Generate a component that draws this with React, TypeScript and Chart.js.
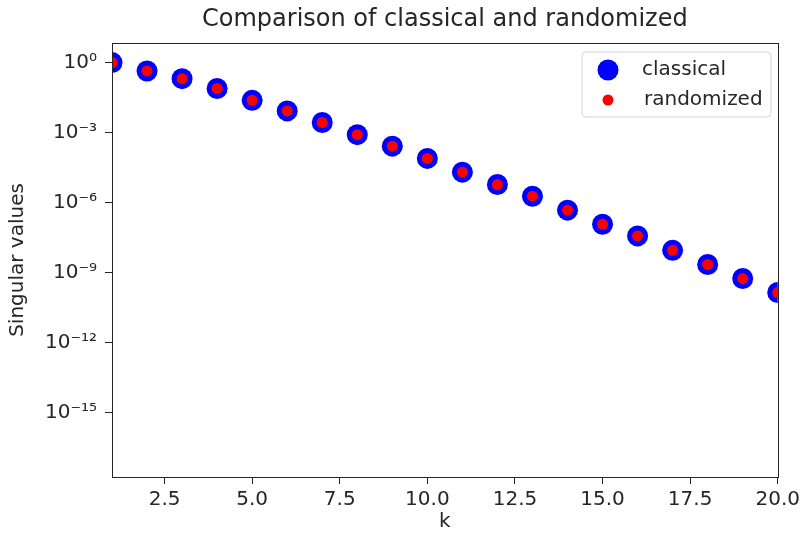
import React, { useEffect, useRef } from "react";
import { Chart, registerables } from "chart.js";

Chart.register(...registerables);

const ks = [1, 2, 3, 4, 5, 6, 7, 8, 9, 10, 11, 12, 13, 14, 15, 16, 17, 18, 19, 20];
const classical = [
  1.0, 0.437, 0.204, 0.0776, 0.024, 0.0085, 0.0027, 8.1e-4, 2.6e-4, 7.8e-5,
  2.0e-5, 5.9e-6, 1.86e-6, 4.7e-7, 1.17e-7, 3.7e-8, 8.9e-9, 2.2e-9, 5.5e-10, 1.38e-10,
];
const randomized = [
  1.0, 0.437, 0.204, 0.0776, 0.024, 0.0085, 0.0027, 8.1e-4, 2.6e-4, 7.8e-5,
  2.0e-5, 5.9e-6, 1.86e-6, 4.7e-7, 1.17e-7, 3.7e-8, 8.9e-9, 2.2e-9, 5.5e-10, 1.38e-10,
];
const xTicks = [2.5, 5, 7.5, 10, 12.5, 15, 17.5, 20];
const yTickExps = [0, -3, -6, -9, -12, -15];
const titleText = "Comparison of classical and randomized";
const xLabel = "k";
const yLabel = "Singular values";
const seriesNames = ["classical", "randomized"];

const FONT = "'DejaVu Sans', sans-serif";
const INK = "#262626";

const sup: Record<string, string> = {
  "0": "⁰", "1": "¹", "2": "²", "3": "³", "4": "⁴", "5": "⁵",
  "6": "⁶", "7": "⁷", "8": "⁸", "9": "⁹", "-": "⁻",
};
const powLabel = (e: number) => "10" + String(e).split("").map((c) => sup[c] ?? c).join("");

const decorPlugin = {
  id: "decor",
  afterDraw(chart: any) {
    const { ctx, chartArea: a } = chart;
    ctx.save();
    // frame
    ctx.strokeStyle = INK;
    ctx.lineWidth = 1;
    ctx.strokeRect(Math.round(a.left) + 0.5, Math.round(a.top) + 0.5, Math.round(a.right - a.left), Math.round(a.bottom - a.top));
    // title
    ctx.fillStyle = INK;
    ctx.font = `24px ${FONT}`;
    ctx.textAlign = "center";
    ctx.textBaseline = "middle";
    ctx.fillText(titleText, (a.left + a.right) / 2, 20);
    // x label
    ctx.font = `20px ${FONT}`;
    ctx.fillText(xLabel, (a.left + a.right) / 2, 522);
    // y label
    ctx.save();
    ctx.translate(18, (a.top + a.bottom) / 2);
    ctx.rotate(-Math.PI / 2);
    ctx.fillText(yLabel, 0, 0);
    ctx.restore();
    // legend
    const lx = 582, ly = 52, lw = 189, lh = 65, r = 4;
    ctx.beginPath();
    ctx.moveTo(lx + r, ly);
    ctx.arcTo(lx + lw, ly, lx + lw, ly + lh, r);
    ctx.arcTo(lx + lw, ly + lh, lx, ly + lh, r);
    ctx.arcTo(lx, ly + lh, lx, ly, r);
    ctx.arcTo(lx, ly, lx + lw, ly, r);
    ctx.closePath();
    ctx.fillStyle = "rgba(255,255,255,0.8)";
    ctx.fill();
    ctx.strokeStyle = "#d5d5d5";
    ctx.stroke();
    ctx.fillStyle = "#0000ff";
    ctx.beginPath();
    ctx.arc(608, 70, 10.5, 0, Math.PI * 2);
    ctx.fill();
    ctx.fillStyle = "#ff0000";
    ctx.beginPath();
    ctx.arc(608, 100, 5.5, 0, Math.PI * 2);
    ctx.fill();
    ctx.fillStyle = INK;
    ctx.font = `20px ${FONT}`;
    ctx.textAlign = "left";
    ctx.fillText(seriesNames[0], 642, 70);
    ctx.fillText(seriesNames[1], 644, 100);
    ctx.restore();
  },
};

export default function App() {
  const ref = useRef<HTMLCanvasElement>(null);
  useEffect(() => {
    if (!ref.current) return;
    const chart = new Chart(ref.current, {
      type: "scatter",
      data: {
        datasets: [
          {
            label: seriesNames[0],
            data: ks.map((k, i) => ({ x: k, y: classical[i] })),
            backgroundColor: "#0000ff",
            borderWidth: 0,
            pointRadius: 10.5,
            pointHoverRadius: 10.5,
            clip: 0,
            order: 2,
          },
          {
            label: seriesNames[1],
            data: ks.map((k, i) => ({ x: k, y: randomized[i] })),
            backgroundColor: "#ff0000",
            borderWidth: 0,
            pointRadius: 5.5,
            pointHoverRadius: 5.5,
            clip: 0,
            order: 1,
          },
        ],
      },
      options: {
        animation: false,
        responsive: false,
        devicePixelRatio: 1,
        events: [],
        layout: { padding: { top: 43, right: 24, left: 0, bottom: 0 } },
        plugins: {
          legend: { display: false },
          title: { display: false },
          tooltip: { enabled: false },
        },
        scales: {
          x: {
            type: "linear",
            min: 1,
            max: 20,
            afterBuildTicks: (s: any) => {
              s.ticks = xTicks.map((v) => ({ value: v }));
            },
            afterFit: (s: any) => {
              s.height = 58;
            },
            ticks: {
              callback: (v: any) => Number(v).toFixed(1),
              color: INK,
              font: { family: FONT, size: 20 },
              padding: 4,
              maxRotation: 0,
              autoSkip: false,
            },
            grid: { drawOnChartArea: false, drawTicks: true, tickLength: 7, color: INK, tickColor: INK },
            border: { display: true, color: INK },
          },
          y: {
            type: "logarithmic",
            min: Math.pow(10, -17.77),
            max: Math.pow(10, 0.84),
            afterBuildTicks: (s: any) => {
              s.ticks = yTickExps.map((e) => ({ value: Math.pow(10, e) }));
            },
            afterFit: (s: any) => {
              s.width = 112;
            },
            ticks: {
              callback: (v: any) => powLabel(Math.round(Math.log10(Number(v)))),
              color: INK,
              font: { family: FONT, size: 20 },
              padding: 8,
              autoSkip: false,
            },
            grid: { drawOnChartArea: false, drawTicks: true, tickLength: 7, color: INK, tickColor: INK },
            border: { display: true, color: INK },
          },
        },
      },
      plugins: [decorPlugin],
    } as any);
    return () => chart.destroy();
  }, []);
  return (
    <div style={{ position: "fixed", left: 0, top: 0, width: 804, height: 535, background: "#fff" }}>
      <canvas ref={ref} width={804} height={535} style={{ width: 804, height: 535 }} />
    </div>
  );
}
